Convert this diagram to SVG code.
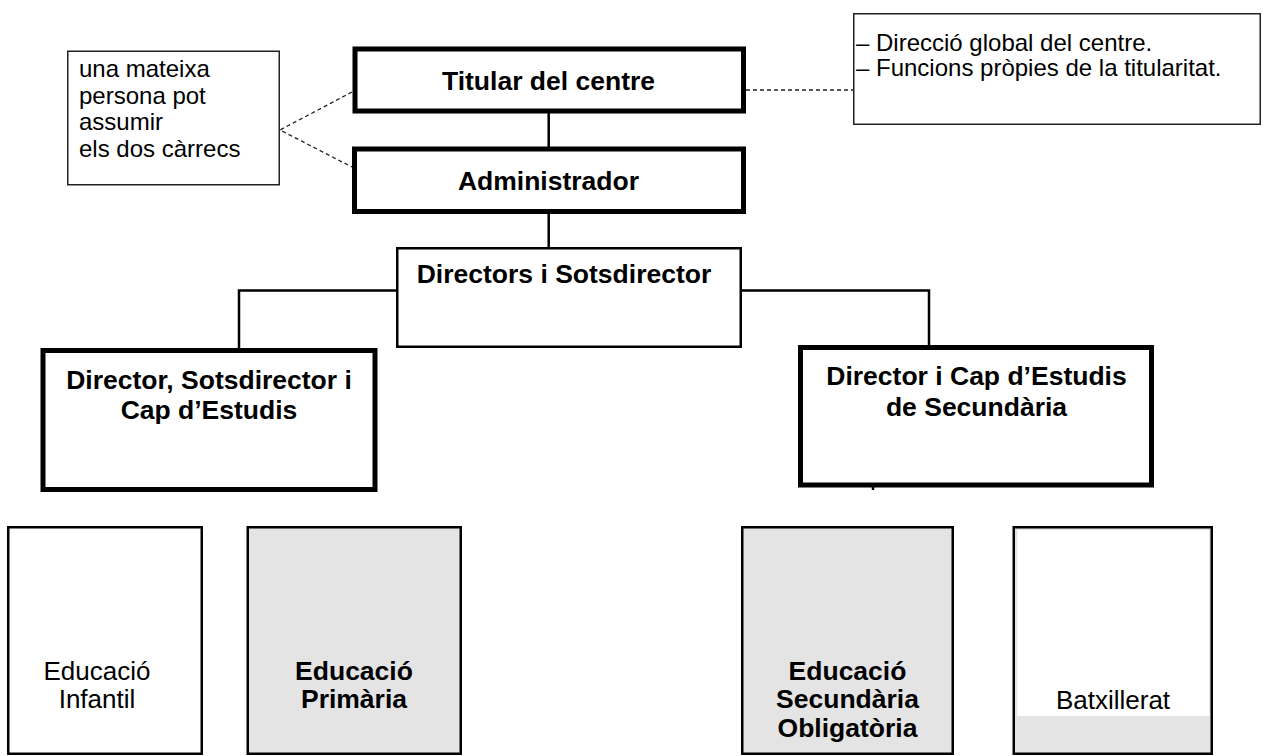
<svg xmlns="http://www.w3.org/2000/svg" width="1268" height="756" viewBox="0 0 1268 756">
<style>
text{font-family:"Liberation Sans",Arial,sans-serif;fill:#000}
.b{font-weight:bold;font-size:26.5px;text-anchor:middle}
.r{font-size:26px;text-anchor:middle}
.n{font-size:24px}
.thick{fill:#fff;stroke:#000;stroke-width:5}
.thin{fill:#fff;stroke:#000;stroke-width:2.5}
.gray{fill:#e4e4e4;stroke:#000;stroke-width:2.5}
.note{fill:#fff;stroke:#222;stroke-width:1.5}
.con{fill:none;stroke:#000;stroke-width:2.5}
.dash{fill:none;stroke:#222;stroke-width:1.3;stroke-dasharray:4 3}
</style>
<rect width="1268" height="756" fill="#fff"/>
<g id="connectors">
<line class="con" x1="548.7" y1="113" x2="548.7" y2="147"/>
<line class="con" x1="548.7" y1="214" x2="548.7" y2="248"/>
<polyline class="con" points="396,290.5 239,290.5 239,349"/>
<polyline class="con" points="742,290.5 929,290.5 929,346"/>
<line class="con" x1="873" y1="487" x2="873" y2="490"/>
<polyline class="dash" points="352,92 280,130 352,167"/>
<line class="dash" x1="746" y1="90" x2="853" y2="90"/>
</g>
<g id="note-left">
<rect class="note" x="67.75" y="51.25" width="211.5" height="133.5"/>
<text class="n" x="79"><tspan x="79" y="77">una mateixa</tspan><tspan x="79" y="103.5">persona pot</tspan><tspan x="79" y="130">assumir</tspan><tspan x="79" y="156.5">els dos càrrecs</tspan></text>
</g>
<g id="note-right">
<rect class="note" x="853.75" y="13.75" width="406.5" height="110.5"/>
<text class="n"><tspan x="856" y="51">– Direcció global del centre.</tspan><tspan x="856" y="76">– Funcions pròpies de la titularitat.</tspan></text>
</g>
<g id="titular">
<rect class="thick" x="355" y="49" width="388.5" height="62"/>
<text class="b" x="548.5" y="90">Titular del centre</text>
</g>
<g id="administrador">
<rect class="thick" x="354.5" y="149" width="389" height="62.5"/>
<text class="b" x="548.5" y="190">Administrador</text>
</g>
<g id="directors">
<rect class="thin" x="397.25" y="248.25" width="343.5" height="98.5"/>
<text class="b" x="564" y="283">Directors i Sotsdirector</text>
</g>
<g id="director-primaria">
<rect class="thick" x="43" y="350.5" width="332" height="139"/>
<text class="b"><tspan x="209" y="389">Director, Sotsdirector i</tspan><tspan x="209" y="419">Cap d’Estudis</tspan></text>
</g>
<g id="director-secundaria">
<rect class="thick" x="800.5" y="347.5" width="351" height="137.5"/>
<text class="b"><tspan x="976.5" y="385">Director i Cap d’Estudis</tspan><tspan x="976.5" y="416">de Secundària</tspan></text>
</g>
<g id="infantil">
<rect class="thin" x="8.25" y="527.25" width="193.5" height="226.5"/>
<text class="r"><tspan x="97" y="680">Educació</tspan><tspan x="97" y="708">Infantil</tspan></text>
</g>
<g id="primaria">
<rect class="gray" x="247.75" y="527.25" width="213" height="226.5"/>
<text class="b"><tspan x="354" y="680">Educació</tspan><tspan x="354" y="708">Primària</tspan></text>
</g>
<g id="eso">
<rect class="gray" x="742.25" y="527.25" width="210.5" height="226.5"/>
<text class="b"><tspan x="847.5" y="680">Educació</tspan><tspan x="847.5" y="708">Secundària</tspan><tspan x="847.5" y="736.5">Obligatòria</tspan></text>
</g>
<g id="batxillerat">
<rect class="gray" x="1013.75" y="527.25" width="198" height="226.5"/>
<rect x="1017.3" y="530" width="192" height="186" fill="#fff"/>
<text class="r" x="1113" y="709">Batxillerat</text>
</g>
</svg>
